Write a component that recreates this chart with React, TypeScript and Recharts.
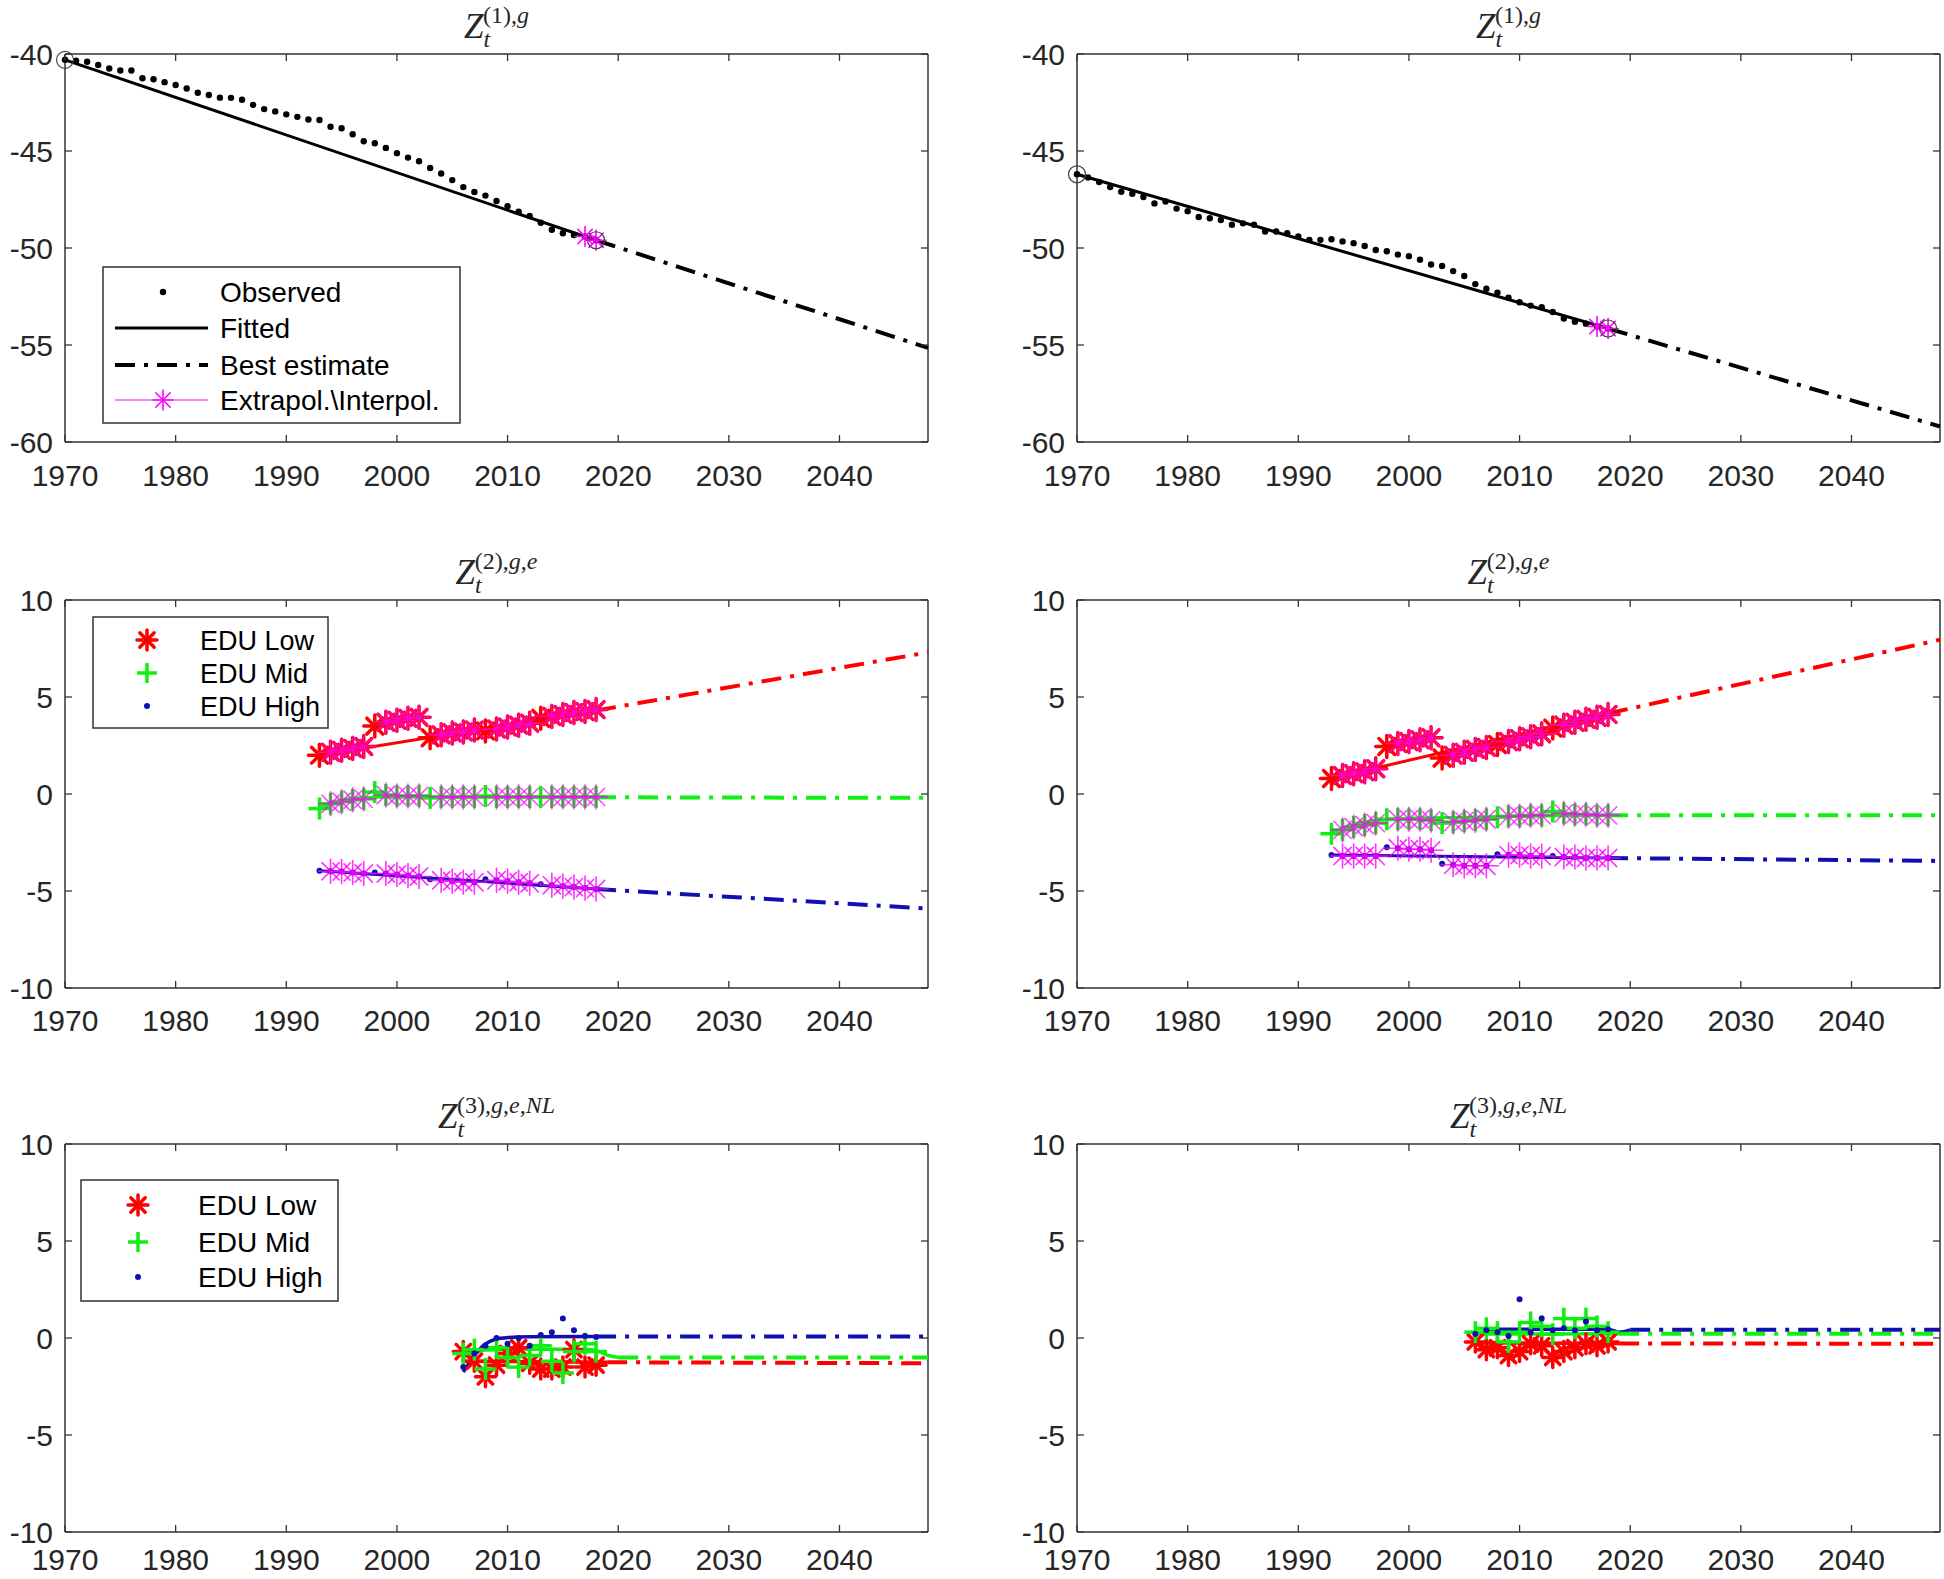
import React from 'react';
import { ComposedChart, Line, XAxis, YAxis, ReferenceLine } from 'recharts';

// ---------------- data ----------------
const xTicks = [1970, 1980, 1990, 2000, 2010, 2020, 2030, 2040];
const yTicksTop = [-60, -55, -50, -45, -40];
const yTicksEdu = [-10, -5, 0, 5, 10];

const yearsObs = [1970, 1971, 1972, 1973, 1974, 1975, 1976, 1977, 1978, 1979, 1980, 1981, 1982, 1983, 1984, 1985, 1986, 1987, 1988, 1989, 1990, 1991, 1992, 1993, 1994, 1995, 1996, 1997, 1998, 1999, 2000, 2001, 2002, 2003, 2004, 2005, 2006, 2007, 2008, 2009, 2010, 2011, 2012, 2013, 2014, 2015, 2016, 2017, 2018];
const observedLeft = [-40.3, -40.35, -40.4, -40.57, -40.75, -40.85, -40.85, -41.25, -41.3, -41.45, -41.6, -41.78, -42.0, -42.11, -42.25, -42.26, -42.36, -42.62, -42.84, -42.96, -43.11, -43.24, -43.38, -43.4, -43.75, -43.83, -44.14, -44.5, -44.6, -44.84, -45.11, -45.34, -45.53, -45.88, -46.16, -46.5, -46.86, -47.11, -47.3, -47.58, -47.85, -48.13, -48.35, -48.7, -49.06, -49.24, -49.33, -49.41, -49.6];
const observedRight = [-46.2, -46.36, -46.6, -46.86, -47.1, -47.2, -47.37, -47.7, -47.6, -47.97, -48.1, -48.4, -48.47, -48.56, -48.8, -48.73, -48.8, -49.15, -49.15, -49.24, -49.4, -49.58, -49.58, -49.55, -49.66, -49.75, -49.9, -50.1, -50.17, -50.34, -50.42, -50.6, -50.85, -50.93, -51.19, -51.44, -51.86, -52.1, -52.3, -52.56, -52.8, -52.97, -53.05, -53.3, -53.64, -53.8, -53.9, -54.05, -54.15];
const fitYears = [1970, 2018];
const fittedLeft = [-40.3, -49.6];
const fittedRight = [-46.2, -54.15];
const bestYears = [2018, 2048];
const bestLeft = [-49.6, -55.15];
const bestRight = [-54.15, -59.2];
const extrapYears = [2017, 2018];
const extrapLeft = [-49.41, -49.6];
const extrapRight = [-54.05, -54.15];

// Z(2) panels
const yearsEdu = [1993, 1994, 1995, 1996, 1997, 1998, 1999, 2000, 2001, 2002, 2003, 2004, 2005, 2006, 2007, 2008, 2009, 2010, 2011, 2012, 2013, 2014, 2015, 2016, 2017, 2018];
const magentaYears = [1994, 1995, 1996, 1997, 1999, 2000, 2001, 2002, 2004, 2005, 2006, 2007, 2009, 2010, 2011, 2012, 2014, 2015, 2016, 2017, 2018];
const lowL = [2.0, 2.15, 2.25, 2.35, 2.45, 3.5, 3.7, 3.8, 3.9, 3.95, 2.9, 3.05, 3.15, 3.2, 3.3, 3.25, 3.35, 3.45, 3.55, 3.65, 3.9, 4.0, 4.1, 4.2, 4.25, 4.35];
const midL = [-0.75, -0.5, -0.4, -0.3, -0.25, 0.1, -0.05, -0.1, -0.1, -0.1, -0.2, -0.15, -0.15, -0.15, -0.15, -0.1, -0.15, -0.15, -0.15, -0.15, -0.15, -0.15, -0.15, -0.15, -0.15, -0.15];
const highL = [-3.95, -3.98, -4.0, -4.05, -4.1, -4.05, -4.1, -4.15, -4.2, -4.25, -4.4, -4.45, -4.5, -4.55, -4.55, -4.4, -4.45, -4.5, -4.55, -4.6, -4.65, -4.7, -4.75, -4.8, -4.85, -4.9];
const lowR = [0.8, 0.95, 1.05, 1.15, 1.3, 2.45, 2.6, 2.7, 2.8, 2.9, 1.85, 2.0, 2.15, 2.3, 2.4, 2.55, 2.7, 2.85, 2.95, 3.1, 3.4, 3.55, 3.7, 3.85, 3.95, 4.1];
const midR = [-2.05, -1.85, -1.7, -1.6, -1.5, -1.3, -1.3, -1.3, -1.3, -1.35, -1.5, -1.45, -1.4, -1.35, -1.3, -1.2, -1.15, -1.15, -1.1, -1.1, -0.9, -1.0, -1.05, -1.05, -1.1, -1.1];
const highR = [-3.15, -3.2, -3.2, -3.2, -3.2, -2.75, -2.8, -2.85, -2.85, -2.9, -3.6, -3.65, -3.7, -3.7, -3.7, -3.1, -3.15, -3.15, -3.2, -3.2, -3.2, -3.25, -3.25, -3.3, -3.3, -3.3];

const fitLowLYears = [1993, 2018];
const fitLowL = [2.0, 4.3];
const bestLowL = [4.3, 7.3];
const fitMidLYears = [1993, 1994, 1995, 1996, 1998, 2003, 2018];
const fitMidL = [-0.75, -0.45, -0.3, -0.22, -0.17, -0.15, -0.17];
const bestMidL = [-0.17, -0.2];
const fitHighLYears = [1993, 2018];
const fitHighL = [-3.95, -4.9];
const bestHighL = [-4.9, -5.9];

const fitLowRYears = [1993, 2018];
const fitLowR = [0.8, 4.15];
const bestLowR = [4.15, 7.95];
const fitMidRYears = [1993, 1994, 1995, 1997, 2000, 2005, 2010, 2018];
const fitMidR = [-2.05, -1.75, -1.55, -1.35, -1.25, -1.2, -1.15, -1.1];
const bestMidR = [-1.1, -1.1];
const fitHighRYears = [1993, 2018];
const fitHighR = [-3.15, -3.3];
const bestHighR = [-3.3, -3.45];

// Z(3) panels
const yearsNL = [2006, 2007, 2008, 2009, 2010, 2011, 2012, 2013, 2014, 2015, 2016, 2017, 2018];
const lowNLL = [-0.7, -1.2, -2.0, -1.4, -0.8, -0.5, -1.3, -1.6, -1.6, -1.5, -0.6, -1.5, -1.4];
const midNLL = [-0.8, -0.6, -1.6, -0.5, -1.0, -1.5, -0.9, -0.4, -1.2, -1.8, -0.7, -0.3, -0.7];
const highNLL = [-1.5, -0.8, -0.4, 0.0, -0.3, 0.0, -0.4, 0.15, 0.3, 1.0, 0.4, 0.1, 0.05];
const lowNLR = [-0.2, -0.6, -0.5, -0.9, -0.7, -0.3, -0.4, -1.0, -0.7, -0.5, -0.3, -0.4, -0.2];
const midNLR = [0.3, 0.5, 0.3, -0.2, 0.3, 0.8, 0.6, 0.2, 1.0, 0.5, 1.0, 0.6, 0.3];
const highNLR = [0.2, 0.4, 0.3, 0.1, 2.0, 0.3, 1.0, 0.4, 0.5, 0.4, 0.85, 0.4, 0.45];

const fitLowNLLYears = [2006, 2019];
const fitLowNLL = [-1.2, -1.25];
const bestLowNLLYears = [2019, 2048];
const bestLowNLL = [-1.25, -1.3];
const fitMidNLLYears = [2006, 2007, 2008, 2012, 2017, 2018, 2019, 2020];
const fitMidNLL = [-1.0, -0.75, -0.62, -0.58, -0.58, -0.65, -0.88, -1.0];
const bestMidNLLYears = [2020, 2048];
const bestMidNLL = [-1.0, -1.0];
const fitHighNLLYears = [2006, 2007, 2008, 2009, 2010, 2012, 2018];
const fitHighNLL = [-1.75, -0.9, -0.3, -0.05, 0.02, 0.06, 0.08];
const bestHighNLLYears = [2018, 2048];
const bestHighNLL = [0.08, 0.08];

const fitLowNLRYears = [2006, 2019];
const fitLowNLR = [-0.25, -0.28];
const bestLowNLRYears = [2019, 2048];
const bestLowNLR = [-0.28, -0.3];
const fitMidNLRYears = [2006, 2019];
const fitMidNLR = [0.2, 0.22];
const bestMidNLRYears = [2019, 2048];
const bestMidNLR = [0.22, 0.22];
const fitHighNLRYears = [2007, 2018, 2019, 2020];
const fitHighNLR = [0.45, 0.45, 0.3, 0.42];
const bestHighNLRYears = [2020, 2048];
const bestHighNLR = [0.42, 0.42];

// ---------------- style ----------------
const AX = '#333333';
const TXT = '#262626';
const FONT = "'Liberation Sans', Arial, Helvetica, sans-serif";
const SERIF = "'Liberation Serif', 'DejaVu Serif', serif";
const RED = '#ff0000';
const GREEN = '#11ee11';
const BLUE = '#1010b0';
const MAG = '#ff00ff';
const DASHDOT = '20 9 4 9';

const PW = 863;
const PH = 388;
const YW = 65;
const MT = 54;
const XH = 56;
const MR = 4;
const TL = 7;
const LEFT_X = [65, 1077];
const ROW_Y = [54, 600, 1144];
const LABEL_DY = [44, 43, 38];

const pts = (ys: number[], vs: number[]) => ys.map((y, i) => ({ year: y, v: vs[i] }));
const pick = (sel: number[], ys: number[], vs: number[]) =>
  sel.map((y) => ({ year: y, v: vs[ys.indexOf(y)] }));

// ---------------- markers ----------------
function Star({ cx, cy, size, color, sw, opacity = 1 }: any) {
  const r = size / 2;
  const d = r * 0.72;
  return (
    <g stroke={color} strokeWidth={sw} opacity={opacity} strokeLinecap="round">
      <line x1={cx - r} y1={cy} x2={cx + r} y2={cy} />
      <line x1={cx} y1={cy - r} x2={cx} y2={cy + r} />
      <line x1={cx - d} y1={cy - d} x2={cx + d} y2={cy + d} />
      <line x1={cx - d} y1={cy + d} x2={cx + d} y2={cy - d} />
    </g>
  );
}
function Plus({ cx, cy, size, color, sw }: any) {
  const r = size / 2;
  return (
    <g stroke={color} strokeWidth={sw}>
      <line x1={cx - r} y1={cy} x2={cx + r} y2={cy} />
      <line x1={cx} y1={cy - r} x2={cx} y2={cy + r} />
    </g>
  );
}

const starDot = (color: string, size: number, sw: number, opacity = 1) => (p: any) =>
  p.cx == null || p.cy == null ? <g key={`e${p.index}`} /> : <Star key={`s${p.index}`} cx={p.cx} cy={p.cy} size={size} color={color} sw={sw} opacity={opacity} />;
const plusDot = (color: string, size: number, sw: number) => (p: any) =>
  p.cx == null || p.cy == null ? <g key={`e${p.index}`} /> : <Plus key={`p${p.index}`} cx={p.cx} cy={p.cy} size={size} color={color} sw={sw} />;
const roundDot = (color: string, r: number) => (p: any) =>
  p.cx == null || p.cy == null ? <g key={`e${p.index}`} /> : <circle key={`c${p.index}`} cx={p.cx} cy={p.cy} r={r} fill={color} />;
const ringDot = (p: any) =>
  p.cx == null || p.cy == null ? <g key={`e${p.index}`} /> : <circle key={`r${p.index}`} cx={p.cx} cy={p.cy} r={8.5} fill="none" stroke="#444" strokeWidth={1.2} />;

// ---------------- series builders ----------------
const markers = (id: string, data: any[], dot: any) => (
  <Line key={id} data={data} dataKey="v" stroke="none" dot={dot} activeDot={false} isAnimationActive={false} legendType="none" />
);
const solid = (id: string, data: any[], color: string, w: number, curve = false) => (
  <Line key={id} data={data} dataKey="v" type={curve ? 'monotone' : 'linear'} stroke={color} strokeWidth={w} dot={false} activeDot={false} isAnimationActive={false} legendType="none" />
);
const dashdot = (id: string, data: any[], color: string, w: number) => (
  <Line key={id} data={data} dataKey="v" stroke={color} strokeWidth={w} strokeDasharray={DASHDOT} dot={false} activeDot={false} isAnimationActive={false} legendType="none" />
);

// ---------------- ticks ----------------
const makeXTick = (labelDy: number) => (p: any) => {
  const { x, y, payload } = p;
  return (
    <g key={`xt${payload.value}`}>
      <line x1={x} x2={x} y1={y} y2={y - TL} stroke={AX} strokeWidth={1.3} />
      <line x1={x} x2={x} y1={y - PH} y2={y - PH + TL} stroke={AX} strokeWidth={1.3} />
      <text x={x} y={y + labelDy} textAnchor="middle" fontFamily={FONT} fontSize={30} fill={TXT}>
        {payload.value}
      </text>
    </g>
  );
};
const yTick = (p: any) => {
  const { x, y, payload } = p;
  return (
    <g key={`yt${payload.value}`}>
      <line x1={x} x2={x + TL} y1={y} y2={y} stroke={AX} strokeWidth={1.3} />
      <line x1={x + PW - TL} x2={x + PW} y1={y} y2={y} stroke={AX} strokeWidth={1.3} />
      <text x={x - 12} y={y + 11} textAnchor="end" fontFamily={FONT} fontSize={30} fill={TXT}>
        {payload.value}
      </text>
    </g>
  );
};

function Panel({ col, row, yDomain, yTicks, series }: any) {
  return (
    <div style={{ position: 'absolute', left: LEFT_X[col] - YW, top: ROW_Y[row] - MT }}>
      <ComposedChart width={YW + PW + MR} height={MT + PH + XH} margin={{ top: MT, right: MR, left: 0, bottom: 0 }}>
        <XAxis type="number" dataKey="year" domain={[1970, 2048]} ticks={xTicks} interval={0} height={XH} tickSize={0} tickMargin={0} tick={makeXTick(LABEL_DY[row])} tickLine={false} axisLine={{ stroke: AX, strokeWidth: 1.5 }} />
        <YAxis type="number" domain={yDomain} ticks={yTicks} interval={0} width={YW} tickSize={0} tickMargin={0} tick={yTick} tickLine={false} axisLine={{ stroke: AX, strokeWidth: 1.5 }} />
        <ReferenceLine y={yDomain[1]} stroke={AX} strokeWidth={1.5} />
        <ReferenceLine x={2048} stroke={AX} strokeWidth={1.5} />
        {series}
      </ComposedChart>
    </div>
  );
}

const topSeries = (obs: number[], fit: number[], best: number[], ext: number[]) => [
  markers('obs', pts(yearsObs, obs), roundDot('#000', 3.2)),
  solid('fit', pts(fitYears, fit), '#000', 3),
  dashdot('best', pts(bestYears, best), '#000', 4),
  solid('ext', pts(extrapYears, ext), MAG, 1.2),
  markers('extm', pts(extrapYears, ext), starDot(MAG, 20, 1.6)),
  markers('ring', pts(fitYears, fit), ringDot),
];

const eduSeries = (low: number[], mid: number[], high: number[], fits: any[]) => [
  markers('lowo', pts(yearsEdu, low), starDot(RED, 22, 3.5)),
  markers('mido', pts(yearsEdu, mid), plusDot(GREEN, 22, 3.5)),
  markers('higho', pts(yearsEdu, high), roundDot(BLUE, 3)),
  solid('lowf', pts(fits[0], fits[1]), RED, 3),
  solid('midf', pts(fits[3], fits[4]), GREEN, 3, true),
  solid('highf', pts(fits[6], fits[7]), BLUE, 3),
  dashdot('lowb', pts(bestYears, fits[2]), RED, 4),
  dashdot('midb', pts(bestYears, fits[5]), GREEN, 4),
  dashdot('highb', pts(bestYears, fits[8]), BLUE, 4),
  markers('lowm', pick(magentaYears, yearsEdu, low), starDot(MAG, 24, 1.6, 0.8)),
  markers('midm', pick(magentaYears, yearsEdu, mid), starDot(MAG, 24, 1.6, 0.7)),
  markers('highm', pick(magentaYears, yearsEdu, high), starDot(MAG, 24, 1.6, 0.8)),
];

const nlSeries = (low: number[], mid: number[], high: number[], f: any[]) => [
  markers('lowo', pts(yearsNL, low), starDot(RED, 20, 3.5)),
  markers('mido', pts(yearsNL, mid), plusDot(GREEN, 22, 3.5)),
  markers('higho', pts(yearsNL, high), roundDot(BLUE, 3)),
  solid('lowf', pts(f[0], f[1]), RED, 3.5, true),
  solid('midf', pts(f[4], f[5]), GREEN, 3.5, true),
  solid('highf', pts(f[8], f[9]), BLUE, 3.5, true),
  dashdot('lowb', pts(f[2], f[3]), RED, 4),
  dashdot('midb', pts(f[6], f[7]), GREEN, 4),
  dashdot('highb', pts(f[10], f[11]), BLUE, 4),
];

// ---------------- titles & legends ----------------
function Title({ cx, y, sup }: any) {
  return (
    <text x={cx} y={y} textAnchor="middle" fontFamily={SERIF} fill={TXT} fontSize={35}>
      <tspan fontStyle="italic">Z</tspan>
      <tspan fontStyle="italic" fontSize={24} dy={9}>t</tspan>
      {sup.map((s: any, i: number) => (
        <tspan key={i} fontSize={24} fontStyle={s[1] ? 'italic' : 'normal'} dx={i === 0 ? -7 : 0} dy={i === 0 ? -24 : 0}>
          {s[0]}
        </tspan>
      ))}
    </text>
  );
}

function EduLegend({ x, y, w, h, rows, mx, tx, fs }: any) {
  return (
    <g>
      <rect x={x} y={y} width={w} height={h} fill="#fff" stroke={AX} strokeWidth={1.5} />
      <Star cx={mx} cy={rows[0]} size={20} color={RED} sw={3.5} />
      <Plus cx={mx} cy={rows[1]} size={20} color={GREEN} sw={3.5} />
      <circle cx={mx} cy={rows[2]} r={3} fill={BLUE} />
      {['EDU Low', 'EDU Mid', 'EDU High'].map((t, i) => (
        <text key={t} x={tx} y={rows[i] + 10} fontFamily={FONT} fontSize={fs} fill="#000">
          {t}
        </text>
      ))}
    </g>
  );
}

function TopLegend() {
  const rows = [292, 328, 365, 400];
  return (
    <g>
      <rect x={103} y={267} width={357} height={156} fill="#fff" stroke={AX} strokeWidth={1.5} />
      <circle cx={163} cy={rows[0]} r={3.2} fill="#000" />
      <line x1={115} x2={208} y1={rows[1]} y2={rows[1]} stroke="#000" strokeWidth={3} />
      <line x1={115} x2={208} y1={rows[2]} y2={rows[2]} stroke="#000" strokeWidth={4} strokeDasharray={DASHDOT} />
      <line x1={115} x2={208} y1={rows[3]} y2={rows[3]} stroke={MAG} strokeWidth={1.2} />
      <Star cx={163} cy={rows[3]} size={20} color={MAG} sw={1.6} />
      {['Observed', 'Fitted', 'Best estimate', 'Extrapol.\\Interpol.'].map((t, i) => (
        <text key={t} x={220} y={rows[i] + 10} fontFamily={FONT} fontSize={28} fill="#000">
          {t}
        </text>
      ))}
    </g>
  );
}

export default function App() {
  const sup1 = [['(1),', false], ['g', true]];
  const sup2 = [['(2),', false], ['g', true], [',', false], ['e', true]];
  const sup3 = [['(3),', false], ['g', true], [',', false], ['e', true], [',', false], ['NL', true]];
  const cxL = LEFT_X[0] + PW / 2;
  const cxR = LEFT_X[1] + PW / 2;
  return (
    <div style={{ position: 'absolute', left: 0, top: 0, width: 1944, height: 1579, background: '#fff', overflow: 'hidden' }}>
      <Panel col={0} row={0} yDomain={[-60, -40]} yTicks={yTicksTop} series={topSeries(observedLeft, fittedLeft, bestLeft, extrapLeft)} />
      <Panel col={1} row={0} yDomain={[-60, -40]} yTicks={yTicksTop} series={topSeries(observedRight, fittedRight, bestRight, extrapRight)} />
      <Panel col={0} row={1} yDomain={[-10, 10]} yTicks={yTicksEdu}
        series={eduSeries(lowL, midL, highL, [fitLowLYears, fitLowL, bestLowL, fitMidLYears, fitMidL, bestMidL, fitHighLYears, fitHighL, bestHighL])} />
      <Panel col={1} row={1} yDomain={[-10, 10]} yTicks={yTicksEdu}
        series={eduSeries(lowR, midR, highR, [fitLowRYears, fitLowR, bestLowR, fitMidRYears, fitMidR, bestMidR, fitHighRYears, fitHighR, bestHighR])} />
      <Panel col={0} row={2} yDomain={[-10, 10]} yTicks={yTicksEdu}
        series={nlSeries(lowNLL, midNLL, highNLL, [fitLowNLLYears, fitLowNLL, bestLowNLLYears, bestLowNLL, fitMidNLLYears, fitMidNLL, bestMidNLLYears, bestMidNLL, fitHighNLLYears, fitHighNLL, bestHighNLLYears, bestHighNLL])} />
      <Panel col={1} row={2} yDomain={[-10, 10]} yTicks={yTicksEdu}
        series={nlSeries(lowNLR, midNLR, highNLR, [fitLowNLRYears, fitLowNLR, bestLowNLRYears, bestLowNLR, fitMidNLRYears, fitMidNLR, bestMidNLRYears, bestMidNLR, fitHighNLRYears, fitHighNLR, bestHighNLRYears, bestHighNLR])} />
      <svg width={1944} height={1579} style={{ position: 'absolute', left: 0, top: 0, pointerEvents: 'none' }}>
        <Title cx={cxL} y={38} sup={sup1} />
        <Title cx={cxR} y={38} sup={sup1} />
        <Title cx={cxL} y={584} sup={sup2} />
        <Title cx={cxR} y={584} sup={sup2} />
        <Title cx={cxL} y={1128} sup={sup3} />
        <Title cx={cxR} y={1128} sup={sup3} />
        <TopLegend />
        <EduLegend x={93} y={617} w={235} h={111} rows={[640, 673, 706]} mx={147} tx={200} fs={27} />
        <EduLegend x={81} y={1180} w={257} h={121} rows={[1205, 1242, 1277]} mx={138} tx={198} fs={28} />
      </svg>
    </div>
  );
}
